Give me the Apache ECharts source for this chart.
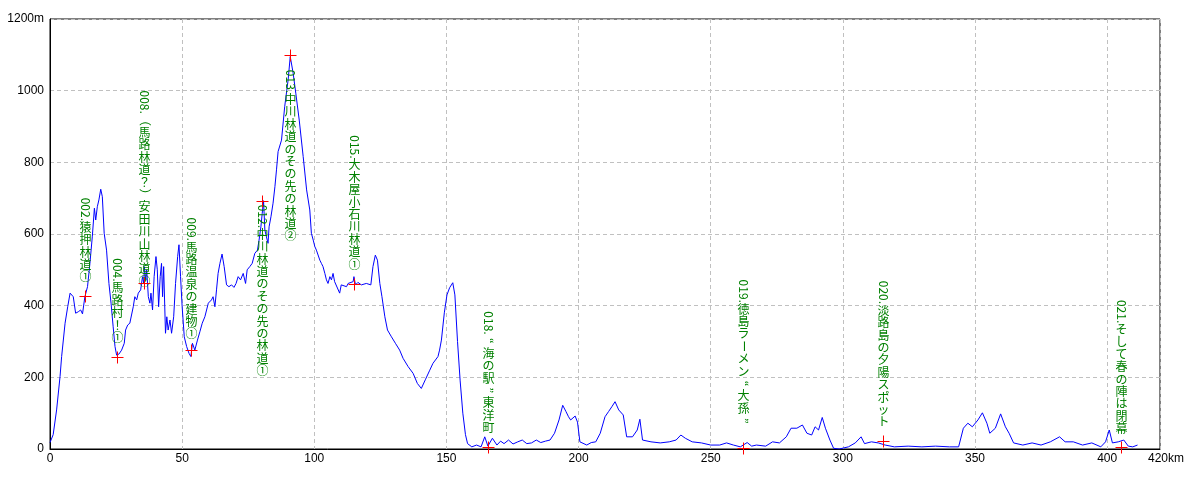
<!DOCTYPE html>
<html><head><meta charset="utf-8">
<script src="https://cdn.jsdelivr.net/npm/echarts@6/dist/echarts.min.js"></script>
<style>html,body{margin:0;padding:0;background:#fff}#c{width:1200px;height:480px}</style>
</head><body><div id="c"></div>
<script>
// ---- data ----
const distanceKm = [0,0.5,1.2,2.5,3.8,4.4,5.7,6.7,7.6,8.8,9.7,10.7,11.6,12.3,13.2,14.2,15.1,16.0,16.8,17.3,17.9,18.5,19.2,19.8,20.5,21.4,22.3,23.1,23.9,24.6,25.2,26.1,27.1,28.1,28.6,29.4,30.2,30.9,31.5,32.1,32.8,33.4,34.3,35.0,35.5,35.7,36.2,36.6,37.2,37.8,38.2,38.8,39.4,40.1,40.6,41.1,41.7,42.2,42.6,43.0,43.7,44.2,44.7,45.4,46.0,46.8,47.5,48.3,48.8,49.4,50.0,50.8,51.7,52.6,53.3,53.9,54.8,55.8,56.7,57.6,58.6,59.9,61.1,61.7,62.4,63.0,63.6,64.3,65.1,65.9,66.8,67.7,68.7,69.6,70.4,71.2,72.1,73.1,74.0,74.6,75.6,76.5,77.5,78.5,79.1,79.8,80.3,80.8,81.3,81.9,82.5,82.9,83.6,84.4,85.1,85.7,86.3,87.6,88.8,90.1,90.9,92.0,93.0,94.3,95.8,97.1,98.3,98.9,99.6,100.2,100.8,102.1,102.7,103.3,104.0,104.6,105.2,105.9,106.5,107.1,107.7,108.4,109.6,110.2,110.9,112.2,112.8,113.4,114.7,115.0,115.6,116.5,117.8,119.7,121.4,122.2,123.1,123.9,124.8,125.6,126.7,127.7,129.2,130.7,132.3,133.6,135.5,137.4,139.0,140.5,142.0,143.7,144.9,146.8,147.4,148.1,149.2,150.2,151.2,152.4,153.2,154.2,155.2,156.2,157.2,158.0,159.6,161.4,163.1,164.5,165.7,167.4,169.1,170.5,171.8,173.5,175.2,177.0,178.7,180.4,182.2,184.0,185.7,187.5,189.2,190.9,192.6,194.0,195.2,196.2,197.0,198.7,199.6,200.5,203.1,204.8,206.5,208.2,210.0,211.4,212.6,213.8,215.2,216.9,218.2,220.4,222.2,223.2,224.2,227.4,230.9,234.3,236.9,238.7,240.4,243.0,246.5,250.0,253.4,256.0,258.6,261.2,263.8,265.5,267.3,270.8,273.4,276.0,278.6,280.4,282.6,284.7,286.4,288.2,289.5,290.8,292.2,293.4,295.1,296.5,298.6,302.1,304.7,306.9,308.2,310.8,313.4,316.0,319.5,324.7,329.9,335.1,340.3,343.8,345.6,347.3,349.0,351.1,352.8,354.5,355.6,357.7,359.7,361.5,362.9,364.6,368.1,371.6,375.0,378.5,382.0,384.1,387.2,390.7,394.2,397.6,399.4,400.8,402.0,404.2,406.3,408.0,409.7,411.5];
const elevationM = [18,18,40,109,202,258,351,397,435,425,379,383,388,377,425,453,518,592,672,639,676,695,725,704,602,555,462,407,341,286,262,265,276,295,332,346,351,346,397,425,416,435,444,481,462,509,472,500,425,407,435,388,481,537,500,397,481,518,425,509,323,369,332,360,323,369,462,537,570,481,397,313,286,267,258,295,276,304,327,351,369,407,416,425,397,444,490,518,544,509,458,453,458,451,462,481,472,490,462,500,509,518,546,555,583,620,658,693,611,592,574,620,648,686,732,779,830,862,955,1030,1095,1049,993,918,816,723,667,602,583,565,555,527,518,509,490,472,462,481,472,490,467,472,435,458,458,453,462,462,467,481,458,465,458,462,458,509,541,527,462,425,369,332,313,295,276,253,230,211,183,169,193,220,239,258,276,304,380,430,450,464,430,300,190,100,40,15,6,11,6,34,8,30,11,22,15,25,14,20,25,15,17,25,18,22,25,44,81,122,105,90,81,92,75,20,11,18,20,44,90,105,118,132,109,95,34,34,53,83,25,20,17,20,25,39,30,20,17,11,11,17,11,6,18,8,11,8,20,17,34,58,58,67,44,39,62,53,88,58,25,2,0,6,17,34,15,20,17,11,6,8,6,8,6,6,58,72,62,81,101,72,44,58,98,62,44,17,11,17,11,20,34,20,20,11,17,6,20,53,17,20,25,8,6,11];

const waypointKm = [13.2,25.2,35.5,53.2,80.4,90.7,114.9,165.7,262.1,315.1,405.4];
const waypointM  = [427,258,462,276,693,1100,460,6,3,22,6];
const waypointText = [
  '002.猿押林道①',
  '004.馬路村！①',
  '008.（馬路林道？）安田川山林道②',
  '009.馬路温泉の建物①',
  '012.中川林道のその先の林道①',
  '013.中川林道のその先の林道②',
  '015.大木屋小石川林道①',
  '018.“海の駅”東洋町',
  '019.徳島ラーメン“大孫”',
  '020.淡路島の夕陽スポット',
  '021.そして春の陣は閉幕'
];
const xUnit = 'km', yUnit = 'm';

// ---- label placement (layout, not data) ----
const placement = [
  {side:'above',gap:13},{side:'above',gap:13},{side:'above',gap:-4},{side:'above',gap:10},
  {side:'below',gap:4},{side:'below',gap:15},{side:'above',gap:14},{side:'above',gap:13},
  {side:'above',gap:21},{side:'above',gap:13},{side:'above',gap:12}
];

const FONT = '12px "Noto Sans CJK JP", sans-serif';
const mctx = document.createElement('canvas').getContext('2d');
mctx.font = FONT;
const ROT = new Set(['ー','（','）','“','”','〜']);
function layoutVertical(text){
  const segs = []; let run = '';
  const flush = () => { if (run) { segs.push({t:run, rot:true, adv:mctx.measureText(run).width}); run=''; } };
  for (const ch of text) {
    if (ch.charCodeAt(0) < 128) run += ch;
    else { flush(); segs.push({t:ch, rot:ROT.has(ch), adv:12.4}); }
  }
  flush();
  return segs;
}

const chart = echarts.init(document.getElementById('c'));
const axisFont = {color:'#000', fontSize:12, fontFamily:'"Liberation Sans", sans-serif'};
chart.setOption({
  animation:false,
  grid:{left:50, right:40, top:19, bottom:31, show:true, borderColor:'#000', borderWidth:1, backgroundColor:'transparent'},
  xAxis:{
    type:'value', min:0, max:420, interval:50,
    axisLine:{show:true, lineStyle:{color:'#000', width:1}},
    axisTick:{show:false},
    axisLabel:Object.assign({margin:4, showMaxLabel:true,
      formatter:v => v===420 ? '{e|420'+xUnit+'}' : String(v),
      rich:{e:Object.assign({padding:[0,0,0,12]}, axisFont)}}, axisFont),
    splitLine:{show:true, lineStyle:{color:'#c0c0c0', type:[4,3], width:1}}
  },
  yAxis:{
    type:'value', min:0, max:1200, interval:200,
    axisLine:{show:true, lineStyle:{color:'#000', width:1}},
    axisTick:{show:false},
    axisLabel:Object.assign({margin:6, formatter:v => v===1200 ? '1200'+yUnit : String(v)}, axisFont),
    splitLine:{show:true, lineStyle:{color:'#c0c0c0', type:[4,3], width:1}}
  },
  series:[
    {
      type:'line', data:distanceKm.map((k,i)=>[k, elevationM[i]]),
      showSymbol:false, symbol:'none',
      lineStyle:{color:'#0000ff', width:1}, z:2
    },
    {
      type:'custom', z:3, clip:false,
      data:waypointKm.map((k,i)=>[k, waypointM[i]]),
      encode:{x:0, y:1},
      renderItem:(params, api) => {
        const i = params.dataIndex;
        const p = api.coord([api.value(0), api.value(1)]);
        const px = Math.round(p[0]) + 0.5, py = Math.round(p[1]) + 0.5;
        const children = [
          {type:'path', z2:5,
           shape:{pathData:'M'+(px-6)+' '+py+'L'+(px+6)+' '+py+'M'+px+' '+(py-6)+'L'+px+' '+(py+6)},
           style:{stroke:'#ff0000', fill:null, lineWidth:1}}
        ];
        const segs = layoutVertical(waypointText[i]);
        const L = segs.reduce((s,g)=>s+g.adv, 0);
        const pl = placement[i];
        let y = pl.side === 'above' ? p[1] - pl.gap - L : p[1] + pl.gap;
        for (const g of segs) {
          children.push({
            type:'text', x:px, y:y + g.adv/2, rotation:g.rot ? -Math.PI/2 : 0,
            style:{text:g.t, fill:'#008000', font:FONT, align:'center', verticalAlign:'middle'}
          });
          y += g.adv;
        }
        return {type:'group', children};
      }
    }
  ]
});
</script></body></html>
